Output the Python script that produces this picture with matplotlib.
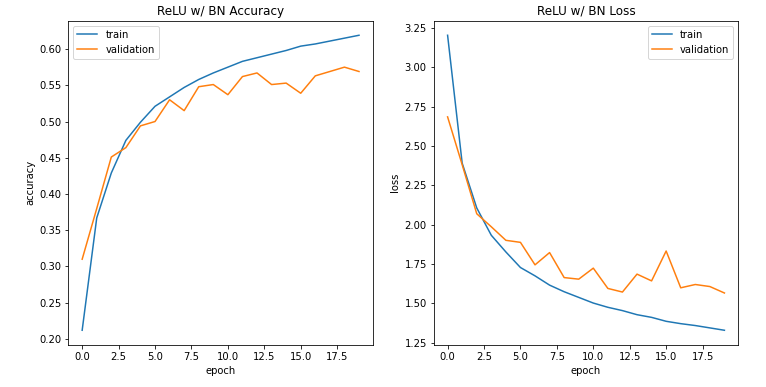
import matplotlib

matplotlib.use("Agg")
import matplotlib.pyplot as plt
import numpy as np

epochs = np.arange(20)

train_acc = [0.212, 0.367, 0.429, 0.474, 0.499, 0.521, 0.534, 0.547, 0.558, 0.567,
             0.575, 0.583, 0.588, 0.593, 0.598, 0.604, 0.607, 0.611, 0.615, 0.619]
val_acc = [0.310, 0.380, 0.451, 0.464, 0.494, 0.500, 0.530, 0.515, 0.548, 0.551,
           0.537, 0.562, 0.567, 0.551, 0.553, 0.539, 0.563, 0.569, 0.575, 0.569]

train_loss = [3.204, 2.391, 2.106, 1.932, 1.826, 1.727, 1.674, 1.615, 1.573, 1.537,
              1.501, 1.474, 1.453, 1.427, 1.410, 1.385, 1.370, 1.358, 1.343, 1.328]
val_loss = [2.685, 2.381, 2.069, 1.986, 1.900, 1.887, 1.744, 1.822, 1.663, 1.653,
            1.723, 1.594, 1.571, 1.685, 1.642, 1.832, 1.598, 1.619, 1.606, 1.565]

fig, (ax1, ax2) = plt.subplots(1, 2, figsize=(766 / 72, 387 / 72), dpi=72)
fig.subplots_adjust(left=0.0892, right=0.9638, bottom=0.1085, top=0.947, wspace=0.2)

ax1.plot(epochs, train_acc, label="train")
ax1.plot(epochs, val_acc, label="validation")
ax1.set_title("ReLU w/ BN Accuracy")
ax1.set_xlabel("epoch")
ax1.set_ylabel("accuracy")
ax1.legend(loc="upper left")

ax2.plot(epochs, train_loss, label="train")
ax2.plot(epochs, val_loss, label="validation")
ax2.set_title("ReLU w/ BN Loss")
ax2.set_xlabel("epoch")
ax2.set_ylabel("loss")
ax2.legend(loc="upper right")

fig.savefig("out.png", dpi=72)
